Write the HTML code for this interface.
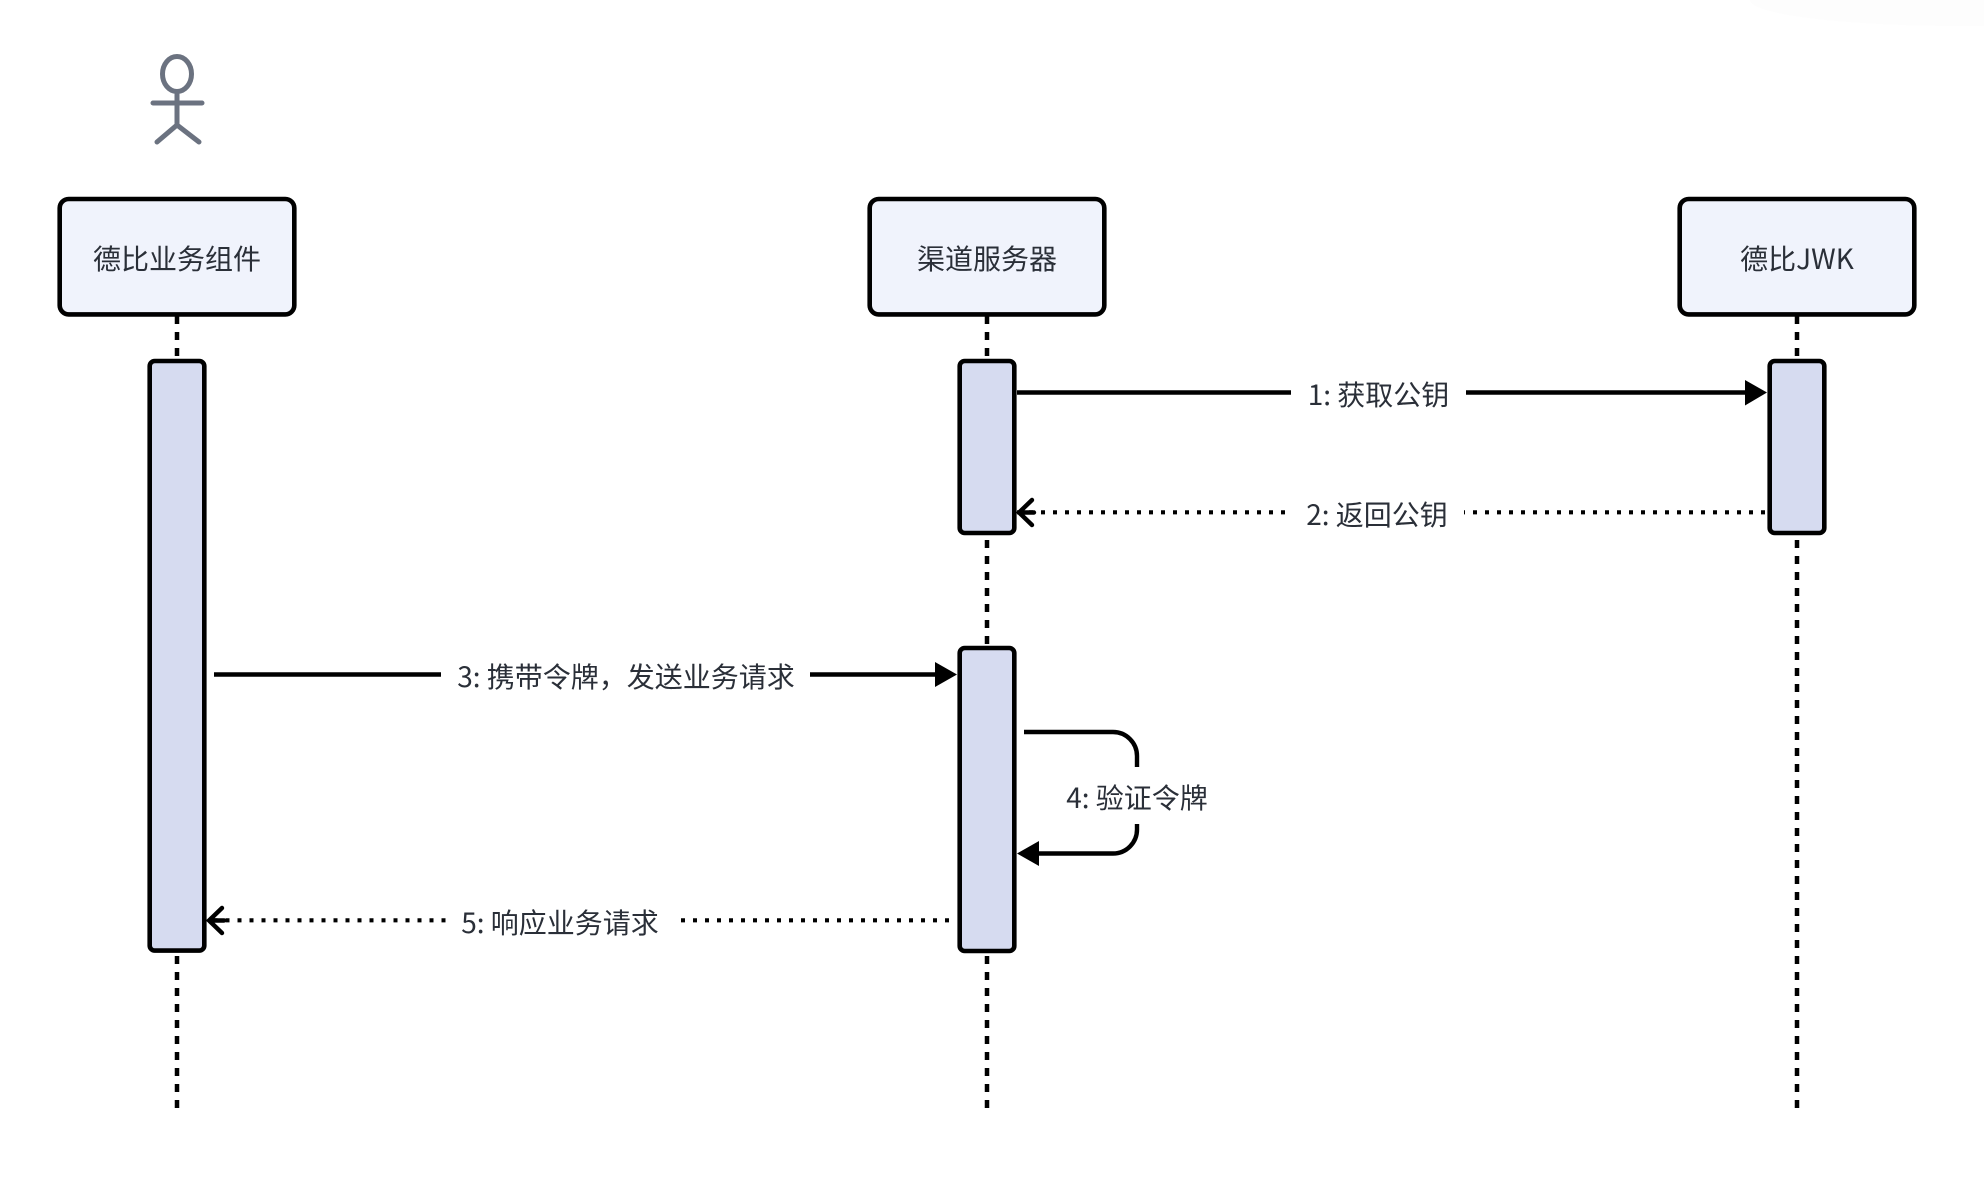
<!DOCTYPE html>
<html><head><meta charset="utf-8"><style>
html,body{margin:0;padding:0;background:#fff;width:1984px;height:1192px;overflow:hidden}
svg{display:block}
text{font-family:"Noto Sans CJK SC","Liberation Sans",sans-serif;font-size:28px;fill:#2a2f38}
</style></head><body>
<svg width="1984" height="1192" viewBox="0 0 1984 1192" xmlns="http://www.w3.org/2000/svg">
<rect width="1984" height="1192" fill="#fff"/>
<ellipse cx="1960" cy="0" rx="210" ry="26" fill="#fdfdfd"/>
<!-- actor -->
<g fill="none" stroke="#6b7280" stroke-width="5" stroke-linecap="round">
<ellipse cx="177" cy="74" rx="14.5" ry="17.5"/>
<path d="M177 92V125M153 103H202M177 125L157 142M177 125L199 142"/>
</g>
<!-- lifelines -->
<g stroke="#000" stroke-width="4.5" stroke-dasharray="8 8" fill="none">
<path d="M177 316V1108M987 316V1108M1797 316V1108"/>
</g>
<!-- boxes -->
<g fill="#f0f3fc" stroke="#000" stroke-width="4.6">
<rect x="59.7" y="199" width="234.6" height="115.4" rx="9"/>
<rect x="869.7" y="199" width="234.6" height="115.4" rx="9"/>
<rect x="1679.7" y="199" width="234.6" height="115.4" rx="9"/>
</g>
<text x="177" y="269" text-anchor="middle">德比业务组件</text>
<text x="987" y="269" text-anchor="middle">渠道服务器</text>
<text x="1797" y="269" text-anchor="middle">德比JWK</text>
<!-- activations -->
<g fill="#d6dbf0" stroke="#000" stroke-width="4.6">
<rect x="149.7" y="361" width="54.6" height="589.6" rx="5"/>
<rect x="959.7" y="361" width="54.6" height="172" rx="5"/>
<rect x="1769.7" y="361" width="54.6" height="172" rx="5"/>
<rect x="959.7" y="648" width="54.6" height="303" rx="5"/>
</g>
<!-- solid messages -->
<g stroke="#000" stroke-width="4.4" fill="none">
<path d="M1017 392.5H1291M1466 392.5H1748"/>
<path d="M214 674.5H441M810 674.5H938"/>
<path d="M1024 732H1113A24 24 0 0 1 1137 756V767M1137 824V829A24 24 0 0 1 1113 853.5H1036"/>
</g>
<g fill="#000">
<path d="M1745 380L1767 392.5L1745 405.5Z"/>
<path d="M935 662L957 674.5L935 687Z"/>
<path d="M1039 841L1017 853.5L1039 866Z"/>
</g>
<!-- dotted -->
<g stroke="#000" stroke-width="4.2" fill="none" stroke-dasharray="4 8">
<path d="M1017 512.3H1286"/>
<path d="M1461 512.3H1766" />
<path d="M213.5 920.3H446"/>
<path d="M681 920.3H950"/>
</g>
<rect x="1440" y="505" width="24" height="15" fill="#fff"/>
<g stroke="#000" stroke-width="4.4" fill="none" stroke-linecap="round" stroke-linejoin="miter">
<path d="M1032 500L1019 512.5L1032 525M1019 512.5H1034"/>
<path d="M222 908L209 920.5L222 933M209 920.5H224"/>
</g>
<text x="1378.5" y="405" text-anchor="middle">1: 获取公钥</text>
<text x="1377" y="525" text-anchor="middle">2: 返回公钥</text>
<text x="626" y="687" text-anchor="middle">3: 携带令牌，发送业务请求</text>
<text x="1137" y="808" text-anchor="middle">4: 验证令牌</text>
<text x="560" y="933" text-anchor="middle">5: 响应业务请求</text>
</svg>
</body></html>
